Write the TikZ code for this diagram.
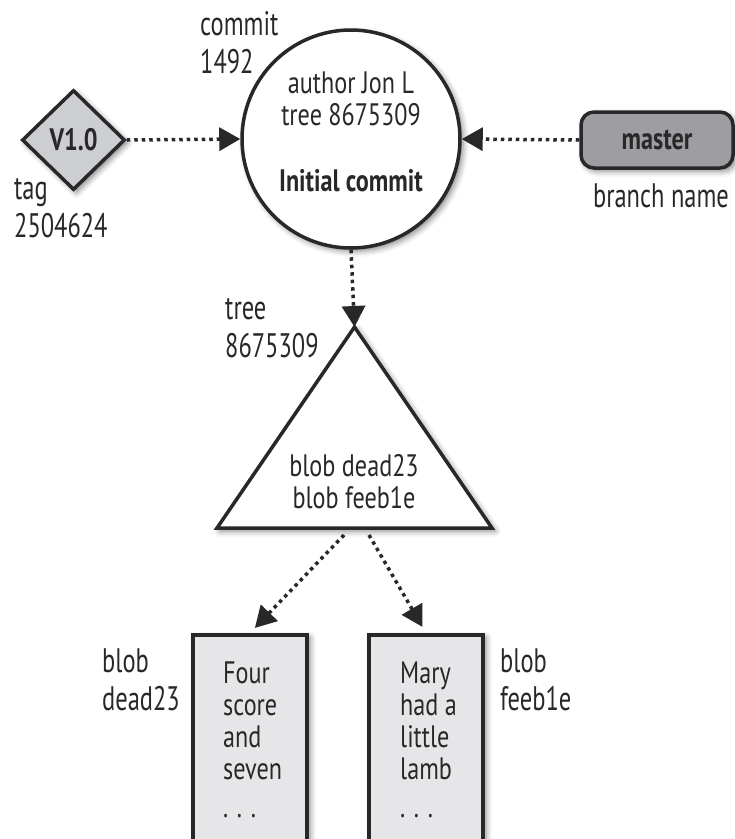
\documentclass[tikz,border=0pt]{standalone}
\usepackage{fontspec}
\setmainfont{PT Sans}[FakeStretch=0.78]
\newfontfamily\captionfont{PT Sans}[FakeStretch=0.72]
\usetikzlibrary{arrows.meta,shapes.geometric,shadows.blur,calc}
\definecolor{inkdark}{RGB}{40,40,40}
\definecolor{tagfill}{RGB}{205,206,210}
\definecolor{branchfill}{RGB}{158,158,162}
\definecolor{blobfill}{RGB}{230,230,233}
\tikzset{
  softshadow/.style={blur shadow={shadow xshift=3pt, shadow yshift=-3pt, shadow blur radius=6pt, shadow opacity=50}},
  objline/.style={draw=inkdark, line width=3.5pt},
  label/.style={font=\captionfont\fontsize{34}{38}\selectfont, text=inkdark, inner sep=0pt, align=left},
  inner/.style={font=\fontsize{31}{32}\selectfont, text=inkdark},
  ref/.style={draw=inkdark, line width=3.5pt, dash pattern=on 3.5pt off 4pt,
    -{Triangle[length=21pt, width=23pt]}},
}
\begin{document}
\begin{tikzpicture}[x=1pt, y=-1pt]
\useasboundingbox (0,0) rectangle (735,839);
\clip (0,0) rectangle (735,839);

% commit object
\node[circle, objline, fill=white, softshadow, minimum size=218pt, inner sep=0pt] (commit) at (351,139) {};
\node[inner, align=center, anchor=north] (committxt) at (351,68)
  {author Jon L\\tree 8675309\\[34pt]\textbf{Initial commit}};
\node[label, anchor=north west] (commitlbl) at (200,11) {commit\\1492};

% tag object
\node[diamond, objline, fill=tagfill, softshadow, minimum width=103pt, minimum height=100pt,
      inner sep=0pt, inner] (tag) at (73.5,140) {\textbf{V1.0}};
\node[label, anchor=north west] (taglbl) at (14,178) {tag\\2504624};

% branch head
\node[rectangle, rounded corners=13pt, objline, fill=branchfill, softshadow,
      minimum width=152pt, minimum height=56pt, inner sep=0pt, inner] (master) at (657,140)
  {\textbf{master}};
\node[label, anchor=north] (branchlbl) at (661,183) {branch name};

% tree object
\coordinate (apex) at (354.5,327);
\coordinate (baseL) at (217,528);
\coordinate (baseR) at (492,528);
\draw[objline, fill=white, softshadow, line join=miter] (apex) -- (baseR) -- (baseL) -- cycle;
\node[inner, align=center] (treetxt) at (354,482) {blob dead23\\blob feeb1e};
\node[label, anchor=north west] (treelbl) at (225,298) {tree\\8675309};
\coordinate (treeoutL) at (344,535);
\coordinate (treeoutR) at (369,535);

% blob objects
\node[rectangle, objline, fill=blobfill, softshadow, minimum width=114pt, minimum height=240pt,
      anchor=north] (blobA) at (250,633) {};
\node[rectangle, objline, fill=blobfill, softshadow, minimum width=114pt, minimum height=240pt,
      anchor=north] (blobB) at (426,633) {};
\node[inner, align=left, anchor=north west, inner sep=0pt] (blobAtxt) at (223,662)
  {Four\\score\\and\\seven\\[6pt]. . .};
\node[inner, align=left, anchor=north west, inner sep=0pt] (blobBtxt) at (400,662)
  {Mary\\had a\\little\\lamb\\[6pt]. . .};
\node[label, anchor=north west] (blobAlbl) at (102,648) {blob\\dead23};
\node[label, anchor=north west] (blobBlbl) at (500,648) {blob\\feeb1e};

% references
\draw[ref] (tag.east) -- (commit.west);
\draw[ref] (master.west) -- (commit.east);
\draw[ref] (commit.south) -- (apex);
\draw[ref, shorten >=7pt] (treeoutL) -- (blobA.north);
\draw[ref, shorten >=7pt] (treeoutR) -- (blobB.north);
\end{tikzpicture}
\end{document}
